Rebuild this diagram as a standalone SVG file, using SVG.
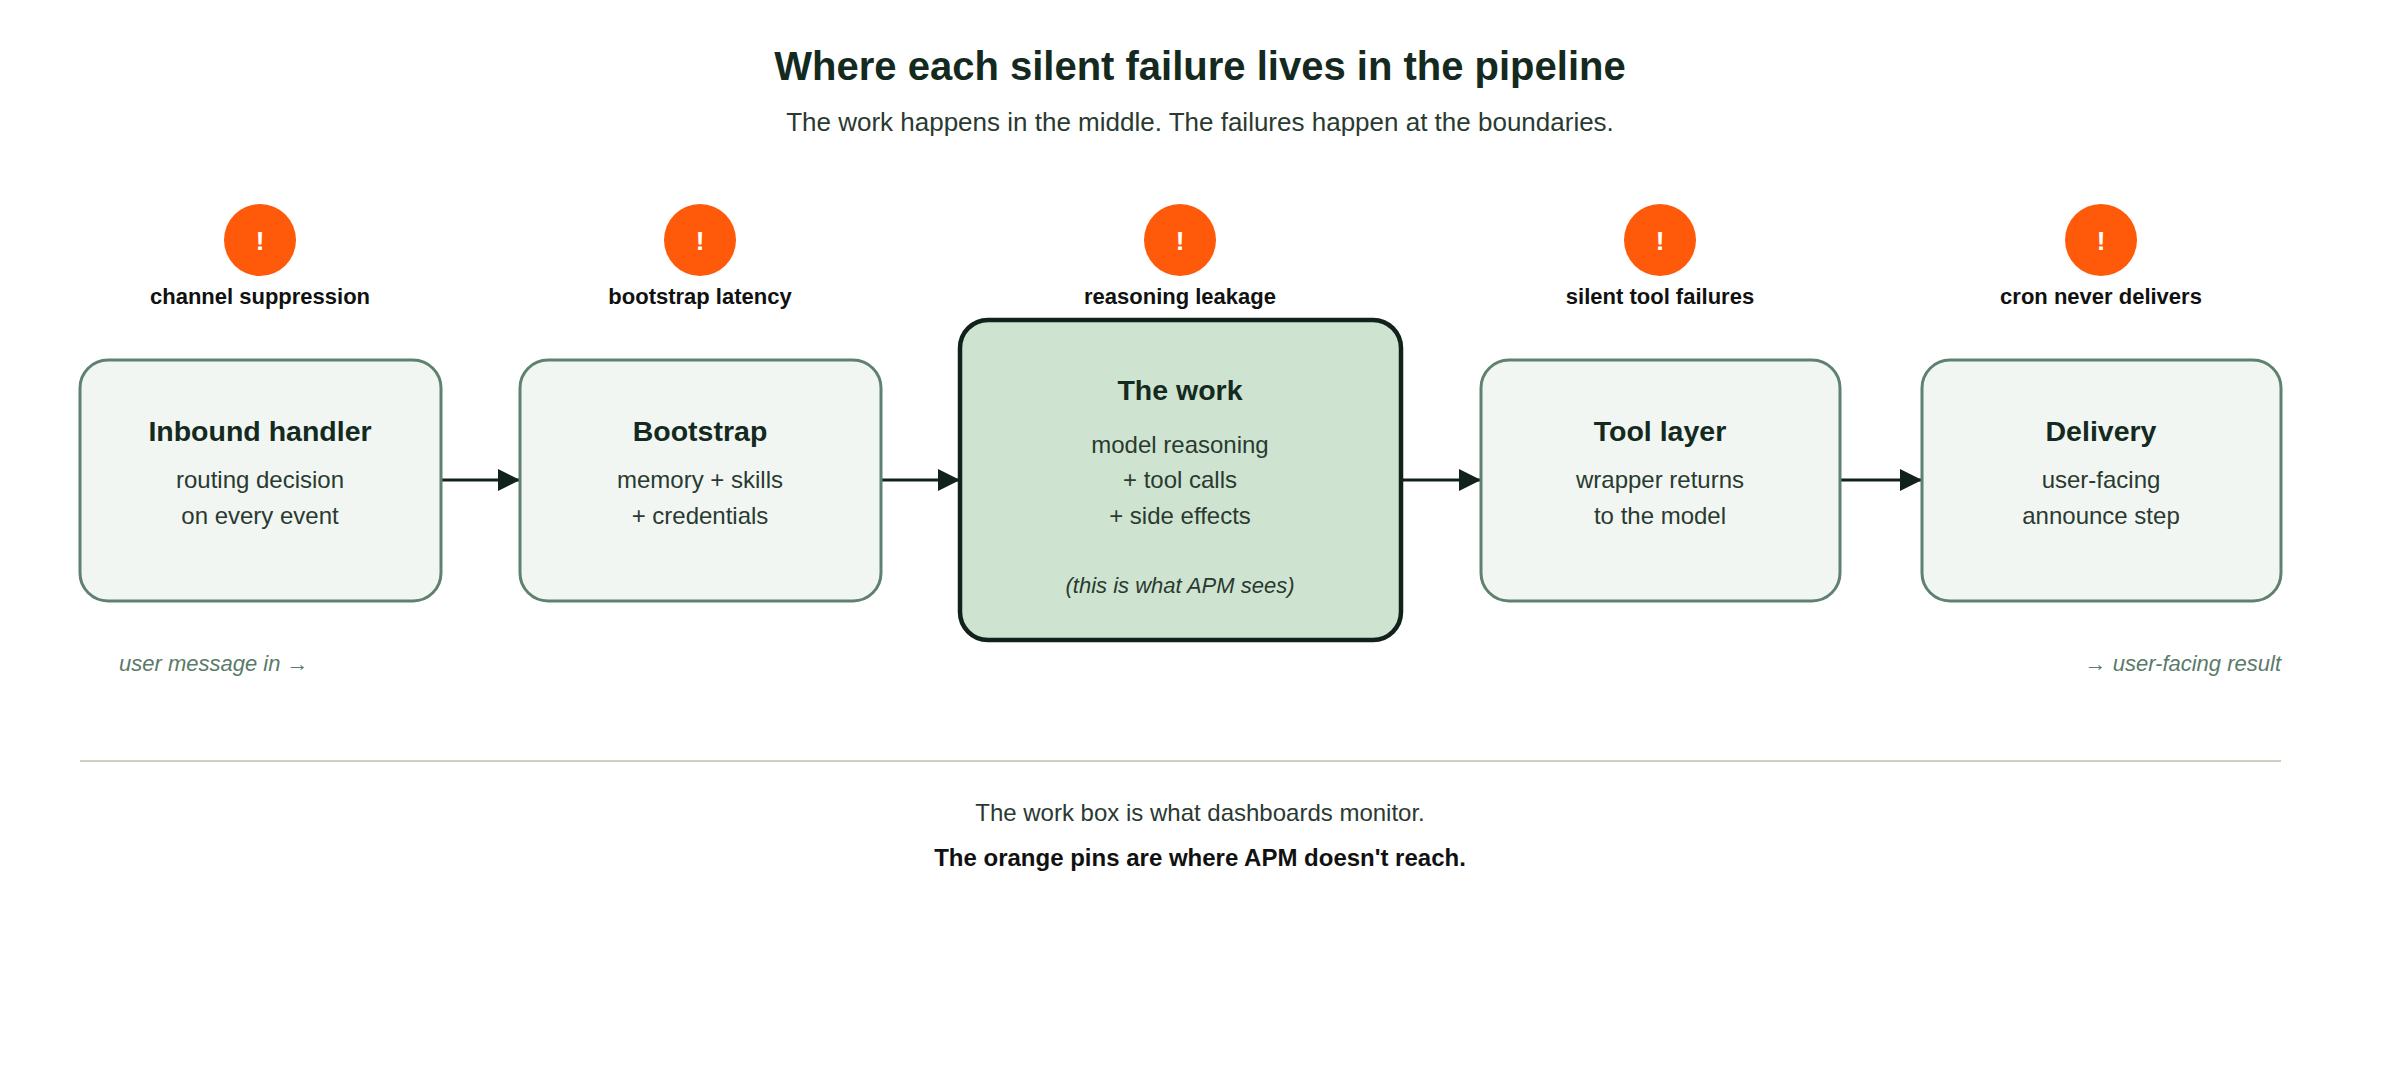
<svg xmlns="http://www.w3.org/2000/svg" width="2400" height="1090" viewBox="0 0 2400 1090">
<style>
text{font-family:"Liberation Sans",Arial,sans-serif;fill:#152a1f;text-anchor:middle}
.t{font-size:40px;font-weight:bold}
.s{font-size:26px;fill:#2a3a30}
.pl{font-size:22px;font-weight:bold;fill:#111}
.pin{fill:#ff5a0a}
.pt{font-size:26px;font-weight:bold;fill:#fff}
.box{fill:#f1f6f2;stroke:#5f8270;stroke-width:3}
.work{fill:#cfe4d0;stroke:#10221a;stroke-width:4.5}
.h{font-size:28.5px;font-weight:bold}
.b{font-size:24px;fill:#2a3a30}
.i{font-size:22px;font-style:italic;fill:#5a7a6a}
.f{font-size:24px;fill:#2a3a30}
.conn{stroke:#10221a;stroke-width:3;fill:none}
</style>
<defs><marker id="ah" viewBox="0 0 10 10" refX="10" refY="5" markerWidth="23" markerHeight="22" markerUnits="userSpaceOnUse" orient="auto"><path d="M0,0 L10,5 L0,10 Z" fill="#10221a"/></marker></defs>
<rect width="2400" height="1090" fill="#fff"/>
<text class="t" x="1200" y="80">Where each silent failure lives in the pipeline</text>
<text class="s" x="1200" y="131">The work happens in the middle. The failures happen at the boundaries.</text>
<g id="pins">
<circle class="pin" cx="260" cy="240" r="36"/><text class="pt" x="260" y="250">!</text><text class="pl" x="260" y="304">channel suppression</text>
<circle class="pin" cx="700" cy="240" r="36"/><text class="pt" x="700" y="250">!</text><text class="pl" x="700" y="304">bootstrap latency</text>
<circle class="pin" cx="1180" cy="240" r="36"/><text class="pt" x="1180" y="250">!</text><text class="pl" x="1180" y="304">reasoning leakage</text>
<circle class="pin" cx="1660" cy="240" r="36"/><text class="pt" x="1660" y="250">!</text><text class="pl" x="1660" y="304">silent tool failures</text>
<circle class="pin" cx="2101" cy="240" r="36"/><text class="pt" x="2101" y="250">!</text><text class="pl" x="2101" y="304">cron never delivers</text>
</g>
<g id="connectors">
<path class="conn" d="M441,480 H520" marker-end="url(#ah)"/>
<path class="conn" d="M881,480 H960" marker-end="url(#ah)"/>
<path class="conn" d="M1401,480 H1481" marker-end="url(#ah)"/>
<path class="conn" d="M1840,480 H1922" marker-end="url(#ah)"/>
</g>
<g id="inbound"><rect class="box" x="80" y="360" width="361" height="241" rx="28"/>
<text class="h" x="260" y="441">Inbound handler</text><text class="b" x="260" y="488">routing decision</text><text class="b" x="260" y="524">on every event</text></g>
<g id="bootstrap"><rect class="box" x="520" y="360" width="361" height="241" rx="28"/>
<text class="h" x="700" y="441">Bootstrap</text><text class="b" x="700" y="488">memory + skills</text><text class="b" x="700" y="524">+ credentials</text></g>
<g id="work"><rect class="work" x="960" y="320" width="441" height="320" rx="28"/>
<text class="h" x="1180" y="400">The work</text><text class="b" x="1180" y="453">model reasoning</text><text class="b" x="1180" y="488">+ tool calls</text><text class="b" x="1180" y="524">+ side effects</text>
<text class="b" x="1180" y="593" style="font-style:italic;font-size:22px">(this is what APM sees)</text></g>
<g id="tool"><rect class="box" x="1481" y="360" width="359" height="241" rx="28"/>
<text class="h" x="1660" y="441">Tool layer</text><text class="b" x="1660" y="488">wrapper returns</text><text class="b" x="1660" y="524">to the model</text></g>
<g id="delivery"><rect class="box" x="1922" y="360" width="359" height="241" rx="28"/>
<text class="h" x="2101" y="441">Delivery</text><text class="b" x="2101" y="488">user-facing</text><text class="b" x="2101" y="524">announce step</text></g>
<text class="i" x="119" y="671" style="text-anchor:start">user message in →</text>
<text class="i" x="2281" y="671" style="text-anchor:end">→ user-facing result</text>
<line x1="80" y1="761" x2="2281" y2="761" stroke="#cfcfc0" stroke-width="2"/>
<text class="f" x="1200" y="821">The work box is what dashboards monitor.</text>
<text class="f" x="1200" y="866" style="font-weight:bold;fill:#111">The orange pins are where APM doesn't reach.</text>
</svg>
